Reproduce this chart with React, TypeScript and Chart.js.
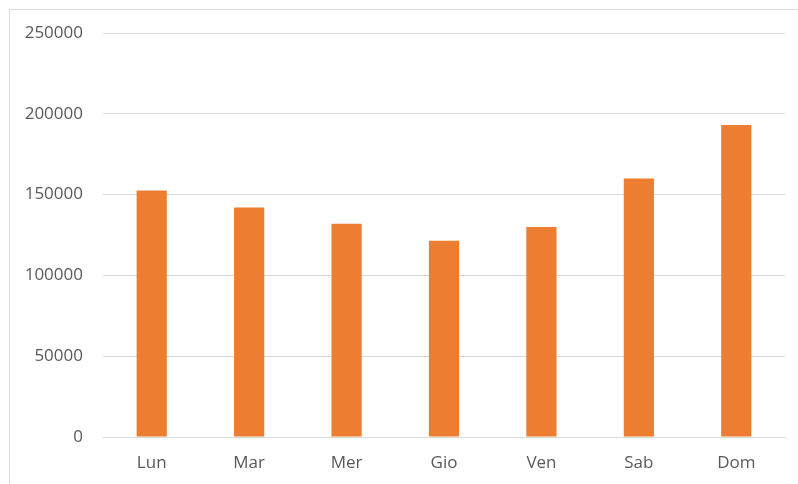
import React, { useEffect, useRef } from "react";
import { Chart, registerables } from "chart.js";

Chart.register(...registerables);

const categories = ["Lun", "Mar", "Mer", "Gio", "Ven", "Sab", "Dom"];
const values = [152500, 142000, 132000, 121500, 130000, 160000, 193000];
const yTicks = [0, 50000, 100000, 150000, 200000, 250000];

export default function App() {
  const ref = useRef<HTMLCanvasElement | null>(null);

  useEffect(() => {
    document.body.style.margin = "0";
    const ctx = ref.current!;
    const font = { family: "'Open Sans', 'Noto Sans', sans-serif", size: 17 };
    const chart = new Chart(ctx, {
      type: "bar",
      data: {
        labels: categories,
        datasets: [
          {
            data: values,
            backgroundColor: "#ED7D31",
            borderWidth: 0,
            categoryPercentage: 1,
            barPercentage: 0.31,
          },
        ],
      },
      options: {
        animation: false,
        responsive: false,
        maintainAspectRatio: false,
        layout: { padding: { top: 33, right: 13, left: 0, bottom: 0 } },
        plugins: { legend: { display: false }, tooltip: { enabled: false } },
        scales: {
          x: {
            grid: { display: false, drawTicks: false },
            border: { display: true, color: "#d9d9d9", width: 1 },
            ticks: { color: "#595959", font, padding: 16 },
            afterFit: (s: any) => {
              s.height = 47;
            },
          },
          y: {
            min: 0,
            max: 250000,
            afterBuildTicks: (s: any) => {
              s.ticks = yTicks.map((v) => ({ value: v }));
            },
            grid: { color: "#d9d9d9", drawTicks: false, lineWidth: 1 },
            border: { display: false },
            ticks: {
              color: "#595959",
              font,
              padding: 20,
              callback: (v: any) => String(v),
            },
            afterFit: (s: any) => {
              s.width = 103;
            },
          },
        },
      },
    });
    return () => chart.destroy();
  }, []);

  return (
    <div style={{ position: "relative", width: 798, height: 484, overflow: "hidden", background: "#fff" }}>
      <div
        style={{
          position: "absolute",
          left: 9,
          top: 9,
          width: 820,
          height: 520,
          border: "1px solid #d9d9d9",
          boxSizing: "border-box",
        }}
      />
      <canvas ref={ref} width={798} height={484} style={{ position: "absolute", left: 0, top: 0 }} />
    </div>
  );
}
